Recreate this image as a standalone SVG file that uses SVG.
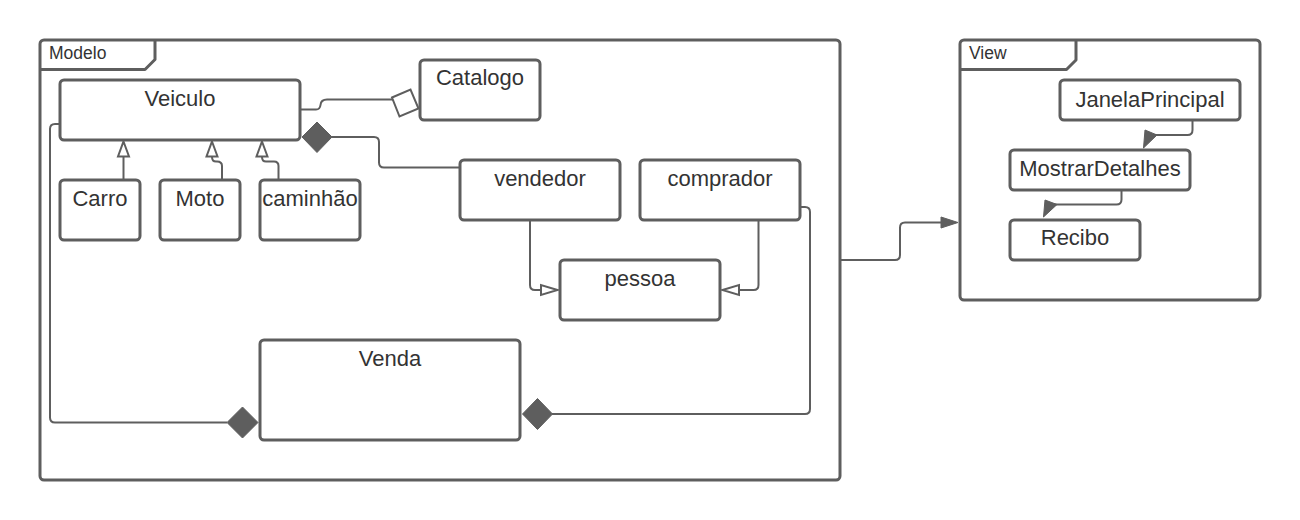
<svg xmlns="http://www.w3.org/2000/svg" width="1300" height="520" viewBox="0 0 1300 520">
<style>
  .frame { fill: #ffffff; stroke: #5e5e5e; stroke-width: 3; }
  .tab { fill: none; stroke: #5e5e5e; stroke-width: 3; stroke-linejoin: round; }
  .node { fill: #ffffff; stroke: #5e5e5e; stroke-width: 3; }
  .lbl { font-family: "Liberation Sans", Arial, sans-serif; font-size: 22px; fill: #333333; text-anchor: middle; }
  .tablbl { font-family: "Liberation Sans", Arial, sans-serif; font-size: 17.5px; fill: #333333; }
  .conn { fill: none; stroke: #5e5e5e; stroke-width: 2; stroke-linejoin: round; }
  .hollow { fill: #ffffff; stroke: #5e5e5e; stroke-width: 2; stroke-linejoin: miter; }
  .solid { fill: #5e5e5e; stroke: #5e5e5e; stroke-width: 1; stroke-linejoin: miter; }
</style>
<rect width="1300" height="520" fill="#ffffff"/>

<g id="modelo">
  <rect class="frame" x="40" y="40" width="800" height="440" rx="4"/>
  <path class="tab" d="M40,69.5 H145 L155,59.5 V40"/>
  <text class="tablbl" x="49" y="58.5">Modelo</text>
</g>

<g id="view">
  <rect class="frame" x="960" y="40" width="300" height="260" rx="4"/>
  <path class="tab" d="M960,69.5 H1066.5 L1076,60 V40"/>
  <text class="tablbl" x="969" y="58.5">View</text>
</g>

<g id="connectors">
  <!-- Veiculo - Catalogo (aggregation) -->
  <path class="conn" d="M300,109.5 H316 Q320,109.5 320.5,105 Q321,99.5 327,99.5 H393"/>
  <polygon class="hollow" points="392,97.5 410.5,89.5 418.5,108.5 399.5,116.5"/>
  <!-- Veiculo - vendedor (composition at Veiculo) -->
  <path class="conn" d="M332,137 H374 Q379,137 379,142 V162.5 Q379,167.5 384,167.5 H460"/>
  <polygon class="solid" points="302,137 317,122 332,137 317,152.5"/>
  <!-- Carro -> Veiculo -->
  <path class="conn" d="M123.5,180 V157"/>
  <polygon class="hollow" points="123.5,141.5 129,156.5 118,156.5"/>
  <!-- Moto -> Veiculo -->
  <path class="conn" d="M222,180 V166 Q222,161.5 217,161.5 H216 Q212,161.5 212,157"/>
  <polygon class="hollow" points="212,141.5 217.5,156.5 206.5,156.5"/>
  <!-- caminhao -> Veiculo -->
  <path class="conn" d="M278.5,180 V166 Q278.5,161.5 274,161.5 H266 Q262,161.5 262,157"/>
  <polygon class="hollow" points="262,141.5 267.5,156.5 256.5,156.5"/>
  <!-- vendedor -> pessoa -->
  <path class="conn" d="M530,220 V285 Q530,290 535,290 H541"/>
  <polygon class="hollow" points="557.5,290 541,285 541,295"/>
  <!-- comprador -> pessoa -->
  <path class="conn" d="M758.5,220 V285 Q758.5,290 753.5,290 H739"/>
  <polygon class="hollow" points="722.5,290 739,285 739,295"/>
  <!-- Veiculo - Venda (composition at Venda) -->
  <path class="conn" d="M60,124 H55 Q50,124 50,129 V417.5 Q50,422.5 55,422.5 H227"/>
  <polygon class="solid" points="227,422.5 242.5,407 258,422.5 242.5,438"/>
  <!-- comprador - Venda (composition at Venda) -->
  <path class="conn" d="M800,207 H805 Q810,207 810,212 V409 Q810,414 805,414 H552"/>
  <polygon class="solid" points="522.5,414 537.5,398.5 552.5,414 537.5,429.5"/>
  <!-- Modelo -> View -->
  <path class="conn" d="M840,260 H895 Q900,260 900,255 V227.5 Q900,222.5 905,222.5 H942"/>
  <polygon class="solid" points="958,222.5 941,217 941,228"/>
  <!-- JanelaPrincipal -> MostrarDetalhes -->
  <path class="conn" d="M1192.5,120 V130 Q1192.5,135 1187.5,135 H1153"/>
  <polygon class="solid" points="1143.5,148 1145,130 1157,135"/>
  <!-- MostrarDetalhes -> Recibo -->
  <path class="conn" d="M1121.5,190 V199.5 Q1121.5,204.5 1116.5,204.5 H1053"/>
  <polygon class="solid" points="1043.5,217 1045,200 1057,204.5"/>
</g>

<g id="veiculo">
  <rect class="node" x="60" y="80" width="240" height="60" rx="4"/>
  <text class="lbl" x="180" y="106">Veiculo</text>
</g>
<g id="catalogo">
  <rect class="node" x="420" y="60" width="120" height="60" rx="4"/>
  <text class="lbl" x="480" y="85">Catalogo</text>
</g>
<g id="carro">
  <rect class="node" x="60" y="180" width="80" height="60" rx="4"/>
  <text class="lbl" x="100" y="206">Carro</text>
</g>
<g id="moto">
  <rect class="node" x="160" y="180" width="80" height="60" rx="4"/>
  <text class="lbl" x="200" y="206">Moto</text>
</g>
<g id="caminhao">
  <rect class="node" x="260" y="180" width="100" height="60" rx="4"/>
  <text class="lbl" x="310" y="206">caminhão</text>
</g>
<g id="vendedor">
  <rect class="node" x="460" y="160" width="160" height="60" rx="4"/>
  <text class="lbl" x="540" y="186">vendedor</text>
</g>
<g id="comprador">
  <rect class="node" x="640" y="160" width="160" height="60" rx="4"/>
  <text class="lbl" x="720" y="186">comprador</text>
</g>
<g id="pessoa">
  <rect class="node" x="560" y="260" width="160" height="60" rx="4"/>
  <text class="lbl" x="640" y="286">pessoa</text>
</g>
<g id="venda">
  <rect class="node" x="260" y="340" width="260" height="100" rx="4"/>
  <text class="lbl" x="390" y="366">Venda</text>
</g>
<g id="janelaprincipal">
  <rect class="node" x="1060" y="80" width="180" height="40" rx="4"/>
  <text class="lbl" x="1150" y="107">JanelaPrincipal</text>
</g>
<g id="mostrardetalhes">
  <rect class="node" x="1010" y="150" width="180" height="40" rx="4"/>
  <text class="lbl" x="1100" y="176">MostrarDetalhes</text>
</g>
<g id="recibo">
  <rect class="node" x="1010" y="220" width="130" height="40" rx="4"/>
  <text class="lbl" x="1075" y="245">Recibo</text>
</g>
</svg>
